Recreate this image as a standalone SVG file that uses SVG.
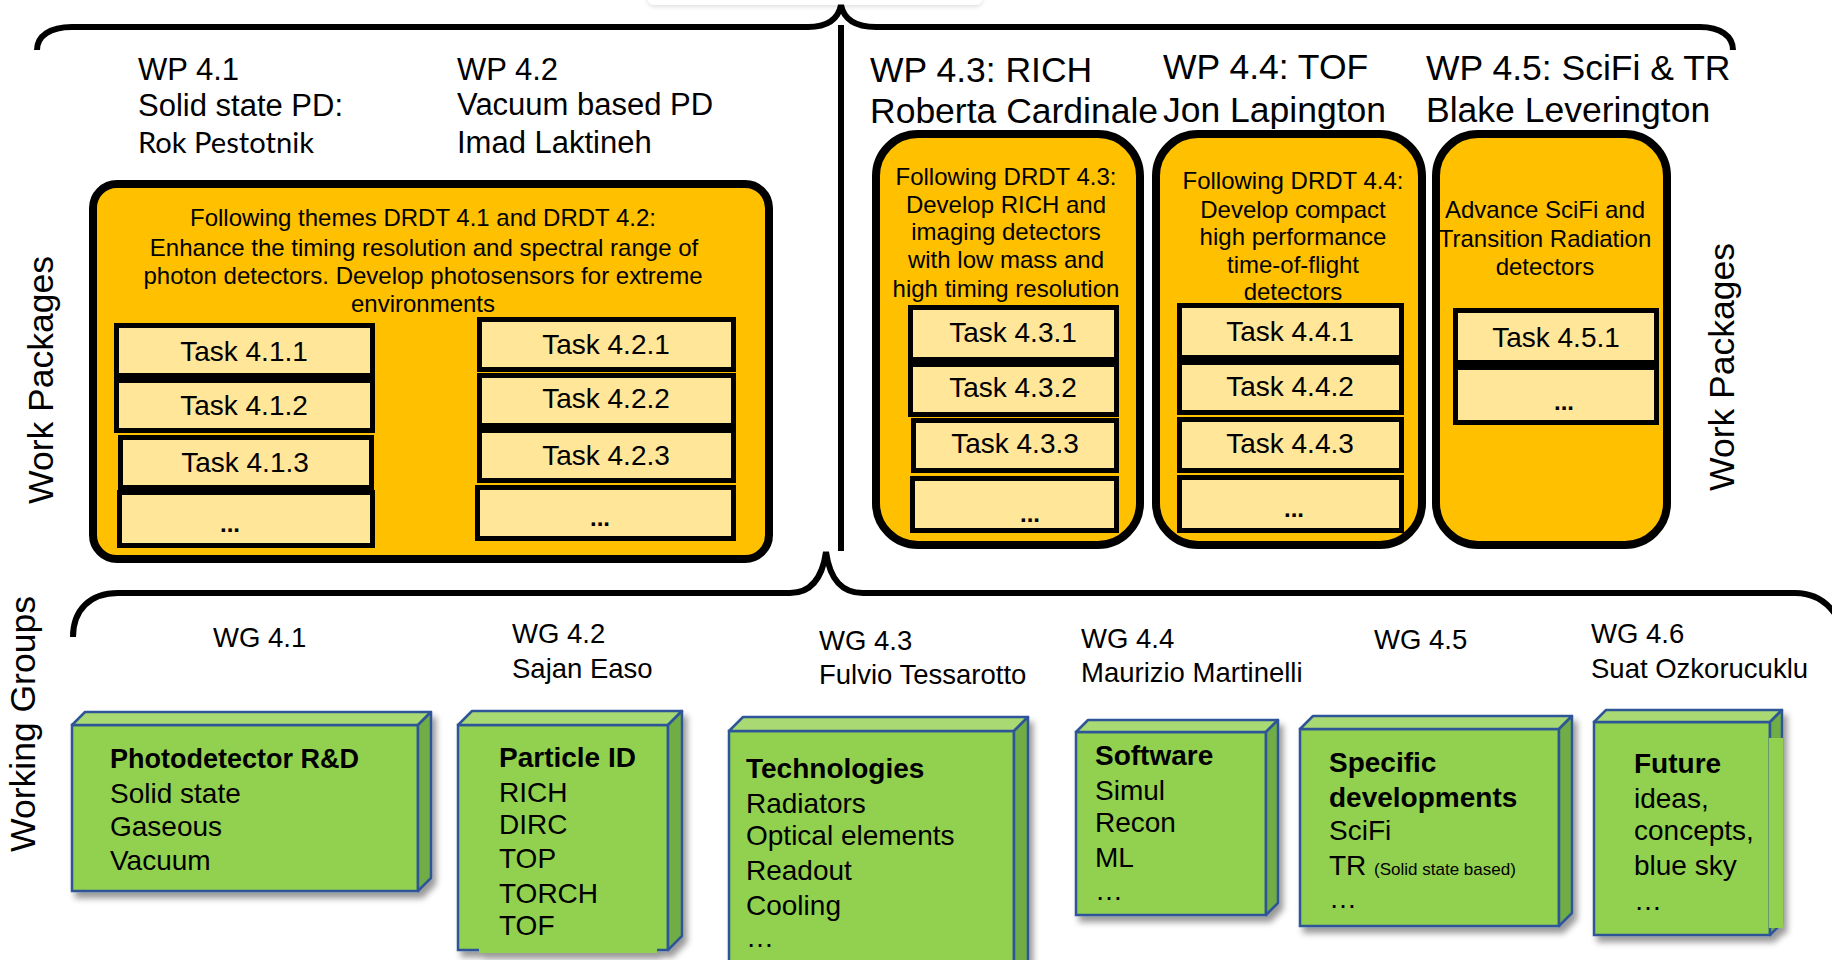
<svg xmlns="http://www.w3.org/2000/svg" width="1832" height="960" viewBox="0 0 1832 960">
  <defs>
    <filter id="shadow" x="-10%" y="-10%" width="130%" height="130%">
      <feDropShadow dx="4" dy="6" stdDeviation="3" flood-color="#000" flood-opacity="0.4"/>
    </filter>
    <filter id="soft" x="-10%" y="-50%" width="120%" height="200%">
      <feDropShadow dx="0" dy="2" stdDeviation="2" flood-color="#000" flood-opacity="0.12"/>
    </filter>
  </defs>
  <style>
    text{font-family:"Liberation Sans",Arial,sans-serif;fill:#000}
    .hd{font-size:31px}
    .hr{font-size:35.5px}
    .side{font-size:35.5px;text-anchor:middle}
    .wp{fill:#FFC000;stroke:#000;stroke-width:8}
    .task{fill:#FFE699;stroke:#000;stroke-width:5}
    .tk{font-size:28px;text-anchor:middle}
    .dots{font-size:24px;font-weight:bold;text-anchor:middle}
    .desc{font-size:24px;text-anchor:middle}
    .wg{font-size:27.5px}
    .gf{fill:#92D050;stroke:#2F5597;stroke-width:2.5}
    .gt{fill:#A9D973;stroke:#2F5597;stroke-width:2.5;stroke-linejoin:round}
    .gr{fill:#70AD47;stroke:#2F5597;stroke-width:2.5;stroke-linejoin:round}
    .bx{font-size:28px}
    .b{font-weight:bold}
    .brace{fill:none;stroke:#000;stroke-width:6;stroke-linecap:butt}
  </style>

  <rect width="1832" height="960" fill="#fff"/>

  <!-- partly hidden panel above the top brace -->
  <rect x="647" y="-40" width="336" height="45" rx="8" fill="#fff" filter="url(#soft)"/>

  <!-- braces and divider -->
  <g id="connectors">
    <path class="brace" d="M37,50 C37,36 50,27 72,27 L808,27 C826,27 838,20 841,5 C844,20 856,27 876,27 L1700,27 C1720,27 1733,36 1733,50"/>
    <line x1="841" y1="25" x2="841" y2="551" stroke="#000" stroke-width="6"/>
    <path class="brace" d="M73,637 C73,610 90,593 118,593 L790,593 C810,593 822,580 826,552 C830,580 842,593 863,593 L1795,593 C1815,593 1830,603 1840,622"/>
  </g>

  <!-- side labels -->
  <text class="side" transform="translate(53,380) rotate(-90)">Work Packages</text>
  <text class="side" transform="translate(1734,367) rotate(-90)">Work Packages</text>
  <text class="side" transform="translate(35,724) rotate(-90)">Working Groups</text>

  <!-- WP 4.1 / 4.2 -->
  <g id="wp41-42">
    <text class="hd" x="138" y="80">WP 4.1</text>
    <text class="hd" x="138" y="116">Solid state PD:</text>
    <text x="138" y="153" style="font-family:Lato,'Liberation Sans',sans-serif;font-size:29px" textLength="176" lengthAdjust="spacingAndGlyphs">Rok Pestotnik</text>
    <text class="hd" x="457" y="80">WP 4.2</text>
    <text class="hd" x="457" y="115">Vacuum based PD</text>
    <text class="hd" x="457" y="153">Imad Laktineh</text>

    <rect class="wp" x="93" y="184" width="676" height="375" rx="24"/>
    <text class="desc" x="423" y="226">Following themes DRDT 4.1 and DRDT 4.2:</text>
    <text class="desc" x="424" y="256">Enhance the timing resolution and spectral range of</text>
    <text class="desc" x="423" y="284">photon detectors. Develop photosensors for extreme</text>
    <text class="desc" x="423" y="312">environments</text>

    <rect class="task" x="116.5" y="325.5" width="256" height="50"/>
    <rect class="task" x="116.5" y="380.5" width="256" height="50"/>
    <rect class="task" x="120.5" y="437.5" width="251" height="50"/>
    <rect class="task" x="119.5" y="492.5" width="253" height="53"/>
    <text class="tk" x="244" y="361">Task 4.1.1</text>
    <text class="tk" x="244" y="415">Task 4.1.2</text>
    <text class="tk" x="245" y="472">Task 4.1.3</text>
    <text class="dots" x="230" y="532">...</text>

    <rect class="task" x="479.5" y="319.5" width="254" height="50"/>
    <rect class="task" x="479.5" y="375.5" width="254" height="50"/>
    <rect class="task" x="479.5" y="430.5" width="254" height="50"/>
    <rect class="task" x="477.5" y="487.5" width="256" height="51"/>
    <text class="tk" x="606" y="354">Task 4.2.1</text>
    <text class="tk" x="606" y="408">Task 4.2.2</text>
    <text class="tk" x="606" y="465">Task 4.2.3</text>
    <text class="dots" x="600" y="526">...</text>
  </g>

  <!-- WP 4.3 -->
  <g id="wp43">
    <text class="hr" x="870" y="82">WP 4.3: RICH</text>
    <text class="hr" x="870" y="123">Roberta Cardinale</text>
    <rect class="wp" x="876" y="134" width="264" height="411" rx="42"/>
    <text class="desc" x="1006" y="185">Following DRDT 4.3:</text>
    <text class="desc" x="1006" y="213">Develop RICH and</text>
    <text class="desc" x="1006" y="240">imaging detectors</text>
    <text class="desc" x="1006" y="268">with low mass and</text>
    <text class="desc" x="1006" y="297">high timing resolution</text>
    <rect class="task" x="910.5" y="307.5" width="206" height="52"/>
    <rect class="task" x="910.5" y="364.5" width="206" height="50"/>
    <rect class="task" x="913.5" y="420.5" width="203" height="50"/>
    <rect class="task" x="912.5" y="478.5" width="204" height="52"/>
    <text class="tk" x="1013" y="342">Task 4.3.1</text>
    <text class="tk" x="1013" y="397">Task 4.3.2</text>
    <text class="tk" x="1015" y="453">Task 4.3.3</text>
    <text class="dots" x="1030" y="522">...</text>
  </g>

  <!-- WP 4.4 -->
  <g id="wp44">
    <text class="hr" x="1163" y="79">WP 4.4: TOF</text>
    <text class="hr" x="1163" y="122">Jon Lapington</text>
    <rect class="wp" x="1156" y="134" width="266" height="411" rx="42"/>
    <text class="desc" x="1293" y="189">Following DRDT 4.4:</text>
    <text class="desc" x="1293" y="218">Develop compact</text>
    <text class="desc" x="1293" y="245">high performance</text>
    <text class="desc" x="1293" y="273">time-of-flight</text>
    <text class="desc" x="1293" y="300">detectors</text>
    <rect class="task" x="1179.5" y="305.5" width="222" height="52"/>
    <rect class="task" x="1179.5" y="362.5" width="222" height="50"/>
    <rect class="task" x="1179.5" y="419.5" width="222" height="51"/>
    <rect class="task" x="1179.5" y="477.5" width="222" height="53"/>
    <text class="tk" x="1290" y="341">Task 4.4.1</text>
    <text class="tk" x="1290" y="396">Task 4.4.2</text>
    <text class="tk" x="1290" y="453">Task 4.4.3</text>
    <text class="dots" x="1294" y="517">...</text>
  </g>

  <!-- WP 4.5 -->
  <g id="wp45">
    <text class="hr" x="1426" y="80">WP 4.5: SciFi &amp; TR</text>
    <text class="hr" x="1426" y="122">Blake Leverington</text>
    <rect class="wp" x="1436" y="134" width="231" height="411" rx="42"/>
    <text class="desc" x="1545" y="218">Advance SciFi and</text>
    <text class="desc" x="1545" y="247">Transition Radiation</text>
    <text class="desc" x="1545" y="275">detectors</text>
    <rect class="task" x="1455.5" y="310.5" width="201" height="52"/>
    <rect class="task" x="1455.5" y="367.5" width="201" height="55"/>
    <text class="tk" x="1556" y="347">Task 4.5.1</text>
    <text class="dots" x="1564" y="410">...</text>
  </g>

  <!-- WG 4.1 -->
  <g id="wg41">
    <text class="wg" x="213" y="647">WG 4.1</text>
    <g filter="url(#shadow)">
      <rect class="gf" x="72" y="725" width="346" height="166"/>
      <polygon class="gt" points="72,725 85,712 431,712 418,725"/>
      <polygon class="gr" points="418,725 431,712 431,878 418,891"/>
    </g>
    <text class="bx b" x="110" y="768" style="font-size:27px">Photodetector R&amp;D</text>
    <text class="bx" x="110" y="803">Solid state</text>
    <text class="bx" x="110" y="836">Gaseous</text>
    <text class="bx" x="110" y="870">Vacuum</text>
  </g>

  <!-- WG 4.2 -->
  <g id="wg42">
    <text class="wg" x="512" y="643">WG 4.2</text>
    <text class="wg" x="512" y="678">Sajan Easo</text>
    <g filter="url(#shadow)">
      <rect class="gf" x="458" y="725" width="210" height="225"/>
      <polygon class="gt" points="458,725 472,711 682,711 668,725"/>
      <polygon class="gr" points="668,725 682,711 682,936 668,950"/>
      <rect x="479" y="947" width="178" height="6" fill="#92D050"/>
    </g>
    <text class="bx b" x="499" y="767">Particle ID</text>
    <text class="bx" x="499" y="802">RICH</text>
    <text class="bx" x="499" y="834">DIRC</text>
    <text class="bx" x="499" y="868">TOP</text>
    <text class="bx" x="499" y="903">TORCH</text>
    <text class="bx" x="499" y="935">TOF</text>
  </g>

  <!-- WG 4.3 -->
  <g id="wg43">
    <text class="wg" x="819" y="650">WG 4.3</text>
    <text class="wg" x="819" y="684">Fulvio Tessarotto</text>
    <g filter="url(#shadow)">
      <rect class="gf" x="729" y="731" width="285" height="260"/>
      <polygon class="gt" points="729,731 743,717 1028,717 1014,731"/>
      <polygon class="gr" points="1014,731 1028,717 1028,977 1014,991"/>
    </g>
    <text class="bx b" x="746" y="778">Technologies</text>
    <text class="bx" x="746" y="813">Radiators</text>
    <text class="bx" x="746" y="845">Optical elements</text>
    <text class="bx" x="746" y="880">Readout</text>
    <text class="bx" x="746" y="915">Cooling</text>
    <text class="bx" x="746" y="947">…</text>
  </g>

  <!-- WG 4.4 -->
  <g id="wg44">
    <text class="wg" x="1081" y="648">WG 4.4</text>
    <text class="wg" x="1081" y="682">Maurizio Martinelli</text>
    <g filter="url(#shadow)">
      <rect class="gf" x="1076" y="732" width="190" height="183"/>
      <polygon class="gt" points="1076,732 1088,720 1278,720 1266,732"/>
      <polygon class="gr" points="1266,732 1278,720 1278,903 1266,915"/>
    </g>
    <text class="bx b" x="1095" y="765">Software</text>
    <text class="bx" x="1095" y="800">Simul</text>
    <text class="bx" x="1095" y="832">Recon</text>
    <text class="bx" x="1095" y="867">ML</text>
    <text class="bx" x="1095" y="900">…</text>
  </g>

  <!-- WG 4.5 -->
  <g id="wg45">
    <text class="wg" x="1374" y="649">WG 4.5</text>
    <g filter="url(#shadow)">
      <rect class="gf" x="1300" y="729" width="259" height="197"/>
      <polygon class="gt" points="1300,729 1313,716 1572,716 1559,729"/>
      <polygon class="gr" points="1559,729 1572,716 1572,913 1559,926"/>
    </g>
    <text class="bx b" x="1329" y="772">Specific</text>
    <text class="bx b" x="1329" y="807">developments</text>
    <text class="bx" x="1329" y="840">SciFi</text>
    <text class="bx" x="1329" y="875">TR <tspan style="font-size:17px">(Solid state based)</tspan></text>
    <text class="bx" x="1329" y="908">…</text>
  </g>

  <!-- WG 4.6 -->
  <g id="wg46">
    <text class="wg" x="1591" y="643">WG 4.6</text>
    <text class="wg" x="1591" y="678">Suat Ozkorucuklu</text>
    <g filter="url(#shadow)">
      <rect class="gf" x="1594" y="722" width="176" height="213"/>
      <polygon class="gt" points="1594,722 1606,710 1782,710 1770,722"/>
      <polygon class="gr" points="1770,722 1782,710 1782,923 1770,935"/>
      <rect x="1769" y="738" width="14" height="190" fill="#92D050"/>
    </g>
    <text class="bx b" x="1634" y="773">Future</text>
    <text class="bx" x="1634" y="808">ideas,</text>
    <text class="bx" x="1634" y="840">concepts,</text>
    <text class="bx" x="1634" y="875">blue sky</text>
    <text class="bx" x="1634" y="910">…</text>
  </g>
</svg>
